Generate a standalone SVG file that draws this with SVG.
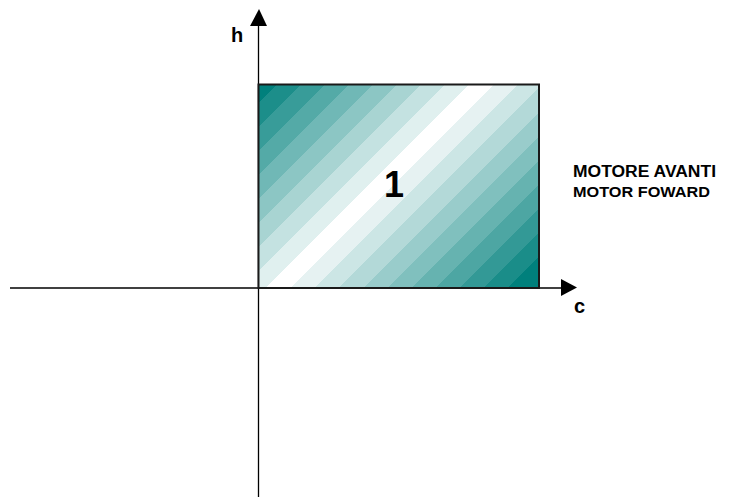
<svg xmlns="http://www.w3.org/2000/svg" width="736" height="497" viewBox="0 0 736 497">
<style>
.axis{stroke:#000;stroke-width:1.3;fill:none}
.lbl{font-family:"Liberation Sans",Arial,sans-serif;fill:#000}
.b{font-weight:bold}
</style>
<defs>
<linearGradient id="g" gradientUnits="userSpaceOnUse" x1="255" y1="81" x2="497.5" y2="323.5">
<stop offset="0" stop-color="#00807c"/><stop offset="0.053" stop-color="#00807c"/>
<stop offset="0.053" stop-color="#1c8e8a"/><stop offset="0.1025" stop-color="#1c8e8a"/>
<stop offset="0.1025" stop-color="#389c99"/><stop offset="0.152" stop-color="#389c99"/>
<stop offset="0.152" stop-color="#54aaa7"/><stop offset="0.2015" stop-color="#54aaa7"/>
<stop offset="0.2015" stop-color="#70b8b6"/><stop offset="0.251" stop-color="#70b8b6"/>
<stop offset="0.251" stop-color="#8cc6c4"/><stop offset="0.3005" stop-color="#8cc6c4"/>
<stop offset="0.3005" stop-color="#a8d4d2"/><stop offset="0.35" stop-color="#a8d4d2"/>
<stop offset="0.35" stop-color="#c4e2e1"/><stop offset="0.3995" stop-color="#c4e2e1"/>
<stop offset="0.3995" stop-color="#e0f0ef"/><stop offset="0.449" stop-color="#e0f0ef"/>
<stop offset="0.449" stop-color="#ffffff"/><stop offset="0.501" stop-color="#ffffff"/>
<stop offset="0.501" stop-color="#e6f2f2"/><stop offset="0.5505" stop-color="#e6f2f2"/>
<stop offset="0.5505" stop-color="#cce6e5"/><stop offset="0.6" stop-color="#cce6e5"/>
<stop offset="0.6" stop-color="#b3d9d8"/><stop offset="0.6495" stop-color="#b3d9d8"/>
<stop offset="0.6495" stop-color="#99cccb"/><stop offset="0.699" stop-color="#99cccb"/>
<stop offset="0.699" stop-color="#80c0be"/><stop offset="0.7485" stop-color="#80c0be"/>
<stop offset="0.7485" stop-color="#66b3b0"/><stop offset="0.798" stop-color="#66b3b0"/>
<stop offset="0.798" stop-color="#4da6a3"/><stop offset="0.8475" stop-color="#4da6a3"/>
<stop offset="0.8475" stop-color="#339996"/><stop offset="0.897" stop-color="#339996"/>
<stop offset="0.897" stop-color="#1a8d89"/><stop offset="0.9465" stop-color="#1a8d89"/>
<stop offset="0.9465" stop-color="#00807c"/><stop offset="1" stop-color="#00807c"/>
</linearGradient>
</defs>
<g id="connectors">
<line class="axis" x1="258.5" y1="24" x2="258.5" y2="497"/>
<polygon points="259,9 250,26 267,26" fill="#000"/>
<line class="axis" x1="10" y1="288" x2="562" y2="288"/>
<polygon points="577,287.5 561,279 561,296" fill="#000"/>
</g>
<g id="region1">
<rect x="258.5" y="84.5" width="280.5" height="203.5" fill="url(#g)" stroke="#1a1a1a" stroke-width="2"/>
<text class="lbl b" x="394" y="197" font-size="36" text-anchor="middle">1</text>
</g>
<g id="axis-h"><text class="lbl b" x="231" y="42" font-size="20">h</text></g>
<g id="axis-c"><text class="lbl b" x="574" y="313" font-size="20">c</text></g>
<g id="legend">
<text class="lbl b" x="573" y="177" font-size="16" textLength="143" lengthAdjust="spacingAndGlyphs">MOTORE AVANTI</text>
<text class="lbl b" x="573" y="197" font-size="14.5" textLength="137" lengthAdjust="spacingAndGlyphs">MOTOR FOWARD</text>
</g>
</svg>
